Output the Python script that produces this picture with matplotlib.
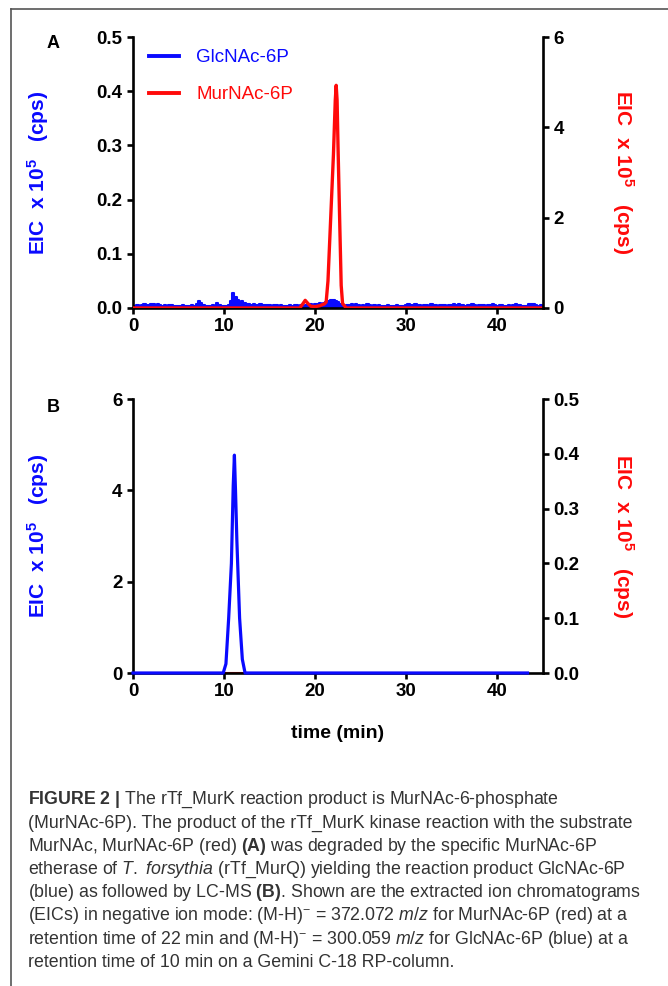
#!/usr/bin/env python3
"""EIC chromatograms for the rTf_MurK / rTf_MurQ reactions (Figure 2)."""

import matplotlib
matplotlib.use("Agg")
import matplotlib.pyplot as plt
from matplotlib.lines import Line2D
import numpy as np

plt.rcParams["font.family"] = ["Liberation Sans", "DejaVu Sans"]
plt.rcParams["mathtext.fontset"] = "custom"
plt.rcParams["mathtext.rm"] = "Liberation Sans"
plt.rcParams["mathtext.bf"] = "Liberation Sans:bold"
plt.rcParams["mathtext.it"] = "Liberation Sans:italic"

BLUE = "#0a0aff"
RED = "#ff0a0a"

# --- panel A: GlcNAc-6P noise (left axis, x1e5 cps), 0.25 min steps from 0 to 45 ---
a_blue_time = np.arange(0, 45.01, 0.25)
a_blue_milli = [
    3, 4, 5, 4, 6, 7, 5, 6, 7, 8, 6, 7, 5, 4, 5, 4, 6, 5, 4, 3,
    4, 3, 5, 4, 3, 4, 5, 4, 7, 12, 9, 5, 4, 3, 4, 5, 4, 9, 5, 4,
    3, 4, 6, 13, 28, 20, 15, 11, 12, 9, 8, 7, 6, 8, 6, 5, 7, 6, 5, 6,
    5, 4, 6, 5, 4, 5, 4, 3, 4, 5, 4, 6, 5, 4, 5, 4, 6, 5, 7, 6,
    8, 7, 9, 8, 10, 11, 13, 14, 15, 13, 11, 7, 5, 4, 6, 5, 8, 5, 8, 5,
    4, 5, 4, 8, 5, 4, 6, 4, 5, 4, 3, 4, 5, 4, 3, 4, 5, 4, 3, 4,
    6, 7, 6, 5, 7, 6, 5, 4, 6, 5, 4, 7, 5, 6, 4, 5, 6, 5, 4, 6,
    5, 7, 6, 8, 6, 5, 4, 6, 5, 7, 6, 4, 5, 6, 5, 4, 6, 5, 7, 5,
    4, 6, 5, 4, 3, 5, 4, 6, 7, 6, 5, 4, 3, 4, 7, 8, 7, 6, 4, 5,
    3,
]
a_blue_vals = np.array(a_blue_milli) / 1000.0

# --- panel A: MurNAc-6P (right axis, x1e5 cps) ---
a_red_time = [0, 18.3, 18.6, 18.9, 19.2, 19.5, 20.0, 20.5, 21.0, 21.2, 21.4, 21.7,
              22.0, 22.2, 22.3, 22.4, 22.5, 22.7, 22.85, 23.0, 23.4, 45]
a_red_vals = [0, 0, 0.08, 0.17, 0.1, 0.04, 0.03, 0.05, 0.09, 0.13, 0.6, 2.0,
              3.4, 4.6, 4.93, 4.6, 3.6, 1.8, 0.5, 0.1, 0, 0]

# --- panel B: GlcNAc-6P (left axis) and MurNAc-6P (right axis) ---
b_blue_time = [0, 9.9, 10.2, 10.5, 10.8, 11.0, 11.13, 11.25, 11.4, 11.7, 12.0, 12.3, 43.3]
b_blue_vals = [0, 0, 0.2, 1.2, 2.4, 4.1, 4.77, 4.0, 2.9, 1.2, 0.3, 0, 0]
b_red_time = [0, 43.3]
b_red_vals = [0, 0]

x_ticks = [0, 10, 20, 30, 40]
a_left_ticks = [0.0, 0.1, 0.2, 0.3, 0.4, 0.5]
a_right_ticks = [0, 2, 4, 6]
b_left_ticks = [0, 2, 4, 6]
b_right_ticks = [0.0, 0.1, 0.2, 0.3, 0.4, 0.5]

YLABEL = r"EIC  x 10$^{\mathbf{5}}$   (cps)"

W, H = 668, 986
fig = plt.figure(figsize=(W / 100, H / 100), dpi=100)


def px_box(left, top, right, bottom):
    return [left / W, 1 - bottom / H, (right - left) / W, (bottom - top) / H]


def style_axes(ax, twin):
    for a in (ax, twin):
        a.spines["top"].set_visible(False)
        for s in a.spines.values():
            s.set_linewidth(1.9)
        a.tick_params(direction="out", length=4.5, width=1.9, labelsize=13.5, pad=3)
        for lbl in a.get_xticklabels() + a.get_yticklabels():
            lbl.set_fontweight("bold")
    twin.spines["left"].set_visible(False)
    twin.spines["bottom"].set_visible(False)
    ax.spines["right"].set_visible(False)
    ax.set_xlim(0, 45)
    ax.set_xticks(x_ticks)
    ax.set_xticklabels([str(t) for t in x_ticks], fontweight="bold")
    ax.set_ylabel(YLABEL, color=BLUE, fontsize=15, fontweight="bold")
    ax.yaxis.set_label_coords(-0.2, 0.5)
    twin.set_ylabel(YLABEL, color=RED, fontsize=15, fontweight="bold", rotation=-90)
    twin.yaxis.set_label_coords(1.195, 0.5)
    twin.yaxis.label.set_va("center")


# ---------------- panel A ----------------
axA = fig.add_axes(px_box(133, 37, 543, 308))
twA = axA.twinx()
axA.fill_between(a_blue_time, a_blue_vals, step="mid", color=BLUE, lw=0)
axA.step(a_blue_time, a_blue_vals, where="mid", color=BLUE, lw=1.5)
axA.set_ylim(0, 0.5)
axA.set_yticks(a_left_ticks)
axA.set_yticklabels([f"{v:.1f}" for v in a_left_ticks])
twA.plot(a_red_time, a_red_vals, color=RED, lw=2.4, solid_joinstyle="round")
twA.set_ylim(0, 6)
twA.set_yticks(a_right_ticks)
twA.set_yticklabels([str(v) for v in a_right_ticks])
style_axes(axA, twA)

handles = [Line2D([], [], color=BLUE, lw=2.8), Line2D([], [], color=RED, lw=2.8)]
leg = axA.legend(handles, ["GlcNAc-6P", "MurNAc-6P"], loc="upper left",
                 bbox_to_anchor=(0.04, 0.955), frameon=False,
                 handlelength=1.6, handletextpad=0.9, labelspacing=1.05,
                 borderpad=0, borderaxespad=0, labelcolor="linecolor",
                 prop={"weight": "normal", "size": 13.5})

# ---------------- panel B ----------------
axB = fig.add_axes(px_box(133, 399, 543, 673))
twB = axB.twinx()
twB.plot(b_red_time, b_red_vals, color=RED, lw=1.5)
axB.plot(b_blue_time, b_blue_vals, color=BLUE, lw=2.3, clip_on=False, zorder=5)
axB.set_zorder(twB.get_zorder() + 1)
axB.patch.set_visible(False)
axB.set_ylim(0, 6)
axB.set_yticks(b_left_ticks)
axB.set_yticklabels([str(v) for v in b_left_ticks])
twB.set_ylim(0, 0.5)
twB.set_yticks(b_right_ticks)
twB.set_yticklabels([f"{v:.1f}" for v in b_right_ticks])
style_axes(axB, twB)

fig.text(338 / W, 1 - 733 / H, "time (min)", ha="center", va="center",
         fontsize=14, fontweight="bold")
fig.text(53 / W, 1 - 43 / H, "A", ha="center", va="center", fontsize=13, fontweight="bold")
fig.text(53 / W, 1 - 407 / H, "B", ha="center", va="center", fontsize=13, fontweight="bold")

# frame around the figure (top and left visible)
fig.add_artist(Line2D([11 / W, 1], [1 - 9 / H, 1 - 9 / H], color="#555555", lw=1.2))
fig.add_artist(Line2D([11 / W, 11 / W], [0, 1 - 9 / H], color="#555555", lw=1.2))

caption = [
    r"$\mathbf{FIGURE\ 2\ |}$ The rTf_MurK reaction product is MurNAc-6-phosphate",
    r"(MurNAc-6P). The product of the rTf_MurK kinase reaction with the substrate",
    r"MurNAc, MurNAc-6P (red) $\mathbf{(A)}$ was degraded by the specific MurNAc-6P",
    r"etherase of $\mathit{T.\ forsythia}$ (rTf_MurQ) yielding the reaction product GlcNAc-6P",
    r"(blue) as followed by LC-MS $\mathbf{(B)}$. Shown are the extracted ion chromatograms",
    r"(EICs) in negative ion mode: (M-H)$^{-}$ = 372.072 $\mathit{m/z}$ for MurNAc-6P (red) at a",
    r"retention time of 22 min and (M-H)$^{-}$ = 300.059 $\mathit{m/z}$ for GlcNAc-6P (blue) at a",
    r"retention time of 10 min on a Gemini C-18 RP-column.",
]
for i, line in enumerate(caption):
    fig.text(28 / W, 1 - (800 + i * 23.2) / H, line, ha="left", va="center",
             fontsize=12.8, fontweight="normal", color="#333333")

fig.savefig("out.png", dpi=100)
